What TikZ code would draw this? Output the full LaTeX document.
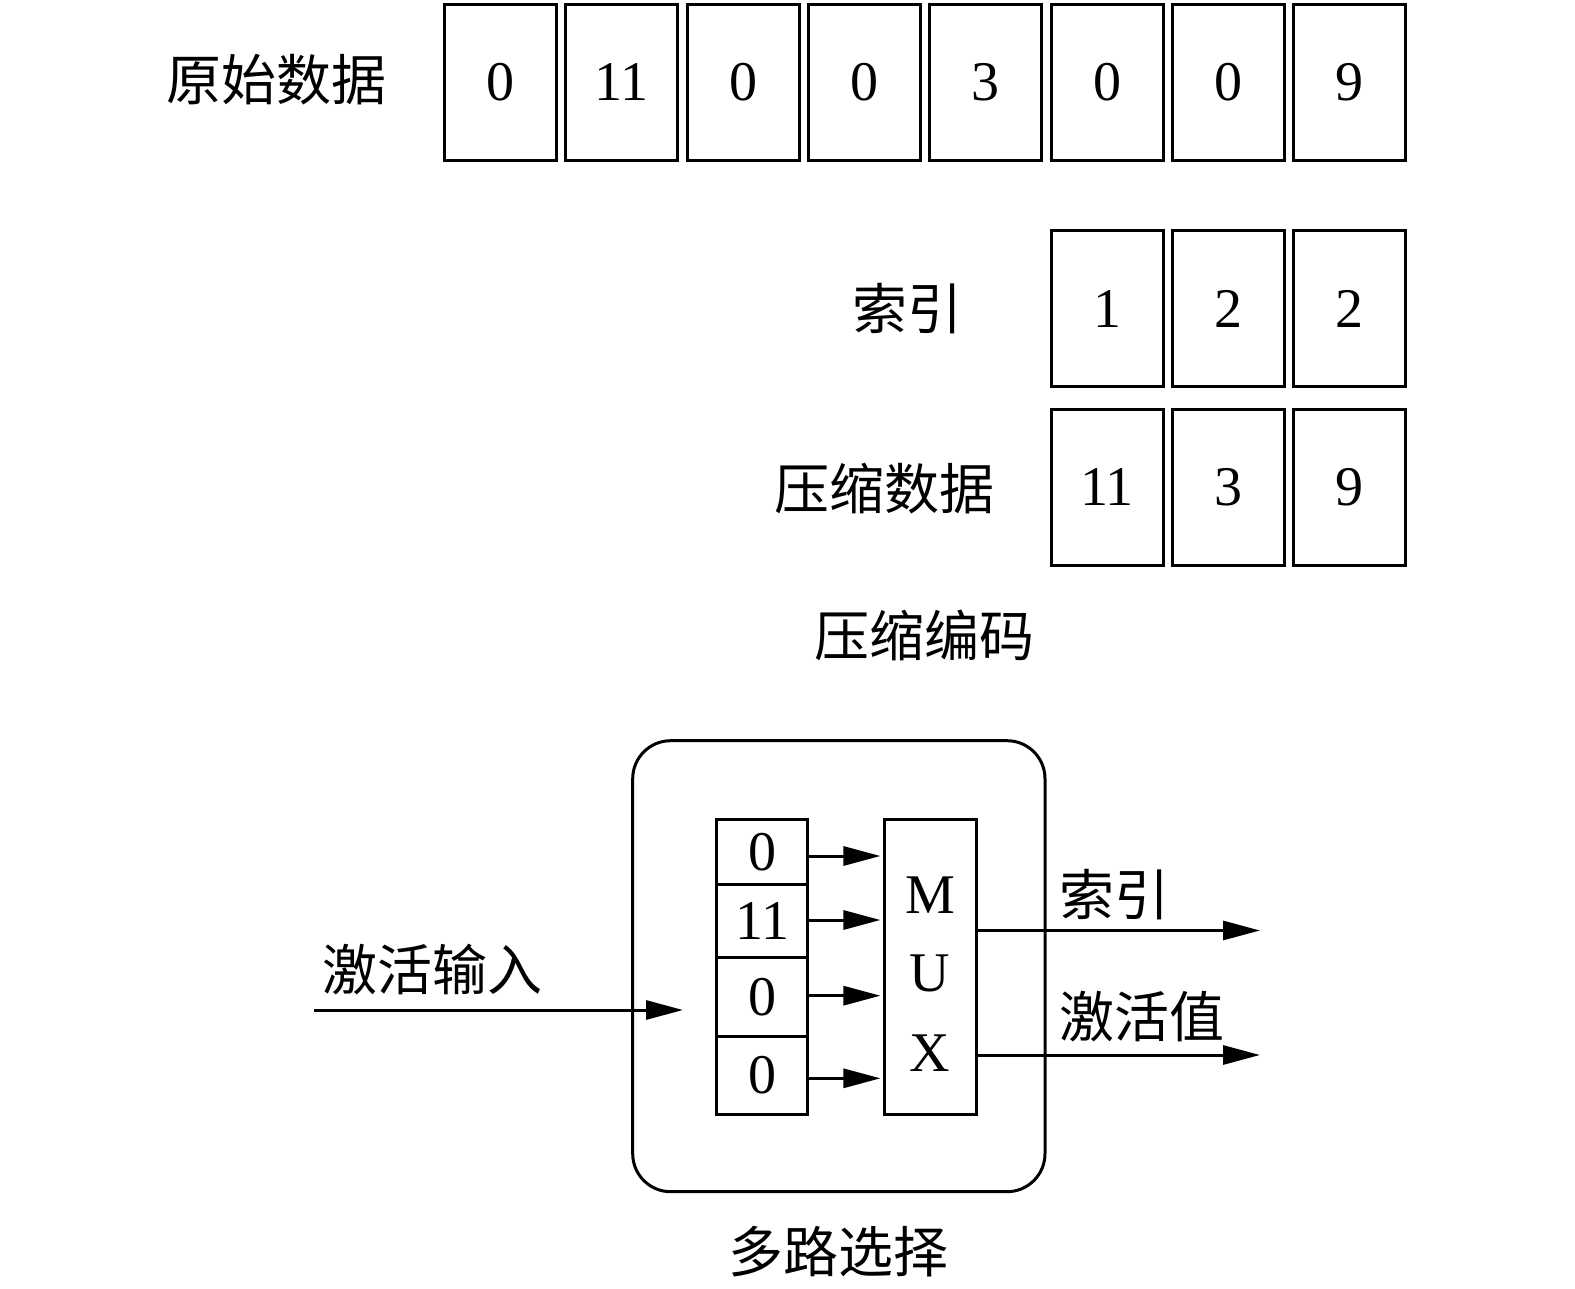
\documentclass[tikz,border=0pt]{standalone}
\usepackage{fontspec}
\setmainfont{Liberation Serif}
\newfontfamily\cjk{Noto Sans CJK SC}
\usetikzlibrary{arrows.meta}
\begin{document}
\begin{tikzpicture}[x=1pt,y=-1pt,
  cell/.style={draw,line width=3pt,minimum width=112pt,minimum height=156pt,inner sep=0pt,font=\fontsize{56}{60}\selectfont},
  lab/.style={inner sep=0pt,font=\cjk\fontsize{55}{60}\selectfont},
  reg/.style={draw,line width=3pt,minimum width=91pt,inner sep=0pt,font=\fontsize{56}{60}\selectfont},
  conn/.style={line width=3pt,-{Triangle[length=37pt,width=19pt]}}]
\useasboundingbox (0,0) rectangle (1575,1289);
% original data
\node[lab] (l1) at (276,80) {原始数据};
\foreach \v [count=\i from 0] in {0,11,0,0,3,0,0,9}
  \node[cell] (o\i) at (500.5+121.3*\i,82.5) {\v};
% index
\node[lab] (l2) at (907,309) {索引};
\node[cell] (i0) at (1107,309) {1};
\node[cell] (i1) at (1228.3,309) {2};
\node[cell] (i2) at (1349.6,309) {2};
% compressed data
\node[lab] (l3) at (884,489) {压缩数据};
\node[cell] (c0) at (1107,487.5) {11};
\node[cell] (c1) at (1228.3,487.5) {3};
\node[cell] (c2) at (1349.6,487.5) {9};
\node[lab] (l4) at (924,635) {压缩编码};
% mux block
\draw[line width=3pt,rounded corners=38pt] (632.7,740.7) rectangle (1045,1191.7);
\node[reg,minimum height=65pt] (r0) at (762.2,851.8) {0};
\node[reg,minimum height=73.4pt] (r1) at (762.2,921) {11};
\node[reg,minimum height=78.3pt] (r2) at (762.2,996.9) {0};
\node[reg,minimum height=78.3pt] (r3) at (762.2,1075.2) {0};
\node[draw,line width=3pt,minimum width=91.7pt,minimum height=295pt,inner sep=0pt] (mux) at (930.8,966.8) {};
\node[inner sep=0pt,font=\fontsize{56}{60}\selectfont] (mm) at (930,895) {M};
\node[inner sep=0pt,font=\fontsize{56}{60}\selectfont] (mu) at (930,973) {U};
\node[inner sep=0pt,font=\fontsize{56}{60}\selectfont] (mx) at (930,1053) {X};
\foreach \i/\yy in {0/856,1/920,2/995.7,3/1078.3}
  \draw[conn] (r\i.east |- 0,\yy) -- ([xshift=-3pt]mux.west |- 0,\yy);
% input
\coordinate (ins) at (314,1010);
\coordinate (ine) at (683,1010);
\draw[conn] (ins) -- (ine);
\node[lab] (l5) at (432,970) {激活输入};
% outputs
\coordinate (oi) at (1260,930.5);
\coordinate (ov) at (1260,1055);
\draw[conn] (mux.east |- oi) -- (oi);
\draw[conn] (mux.east |- ov) -- (ov);
\node[lab,anchor=west] (l6) at (1059,895) {索引};
\node[lab,anchor=west] (l7) at (1059,1017) {激活值};
\node[lab] (l8) at (838,1252) {多路选择};
\end{tikzpicture}
\end{document}
